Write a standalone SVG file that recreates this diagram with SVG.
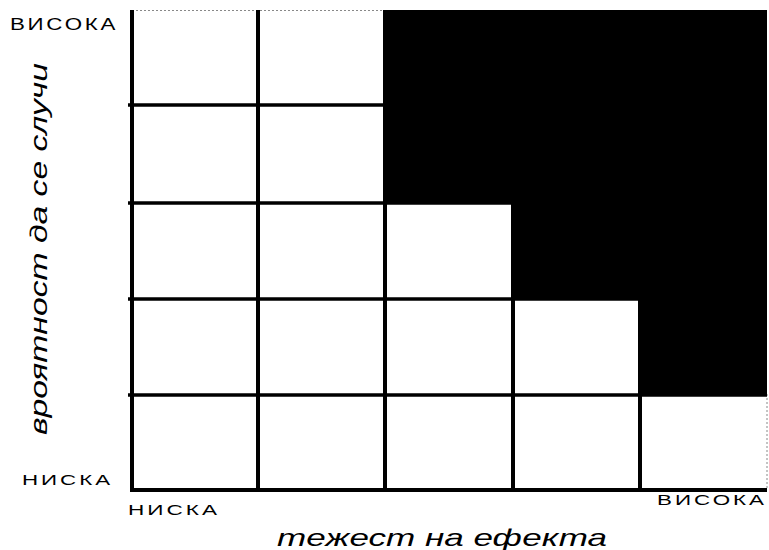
<svg xmlns="http://www.w3.org/2000/svg" width="769" height="550" viewBox="0 0 769 550">
  <style>
    .grid { stroke: #000; stroke-width: 4; fill: none; }
    .hgrid { stroke: #000; stroke-width: 3.5; fill: none; }
    .faint { stroke: #888; stroke-width: 1; stroke-dasharray: 2 2; fill: none; }
    .lbl { font-family: "Liberation Sans", Arial, sans-serif; fill: #000; letter-spacing: 2px; }
    .axis { font-family: "Liberation Sans", Arial, sans-serif; font-style: italic; fill: #000; }
  </style>
  <rect x="0" y="0" width="769" height="550" fill="#fff"/>
  <g id="high-risk-zone">
    <polygon points="385,10 767,10 767,394 640,394 640,298 513,298 513,202 385,202" fill="#000"/>
  </g>
  <g id="grid">
    <line class="faint" x1="132" y1="10.5" x2="385" y2="10.5"/>
    <line class="faint" x1="767" y1="394" x2="767" y2="490"/>
    <line class="grid" x1="132" y1="10" x2="132" y2="492"/>
    <line class="grid" x1="258" y1="10" x2="258" y2="492"/>
    <line class="grid" x1="385" y1="10" x2="385" y2="492"/>
    <line class="grid" x1="513" y1="202" x2="513" y2="492"/>
    <line class="grid" x1="640" y1="298" x2="640" y2="492"/>
    <line class="hgrid" x1="128" y1="105" x2="385" y2="105"/>
    <line class="hgrid" x1="128" y1="203" x2="513" y2="203"/>
    <line class="hgrid" x1="128" y1="299" x2="640" y2="299"/>
    <line class="hgrid" x1="128" y1="395" x2="767" y2="395"/>
    <line class="grid" x1="130" y1="490" x2="767" y2="490"/>
  </g>
  <g id="labels">
    <text class="lbl" x="10" y="30" font-size="16.5" textLength="108" lengthAdjust="spacingAndGlyphs">ВИСОКА</text>
    <text class="lbl" x="22" y="485" font-size="15" textLength="91" lengthAdjust="spacingAndGlyphs">НИСКА</text>
    <text class="lbl" x="128" y="515" font-size="15" textLength="92" lengthAdjust="spacingAndGlyphs">НИСКА</text>
    <text class="lbl" x="657" y="505" font-size="15" textLength="110" lengthAdjust="spacingAndGlyphs">ВИСОКА</text>
    <text class="axis" x="277" y="546" font-size="24" textLength="330" lengthAdjust="spacingAndGlyphs">тежест на ефекта</text>
    <text class="axis" transform="translate(47,435) rotate(-90)" x="0" y="0" font-size="24" textLength="372" lengthAdjust="spacingAndGlyphs">вроятност да се случи</text>
  </g>
</svg>
